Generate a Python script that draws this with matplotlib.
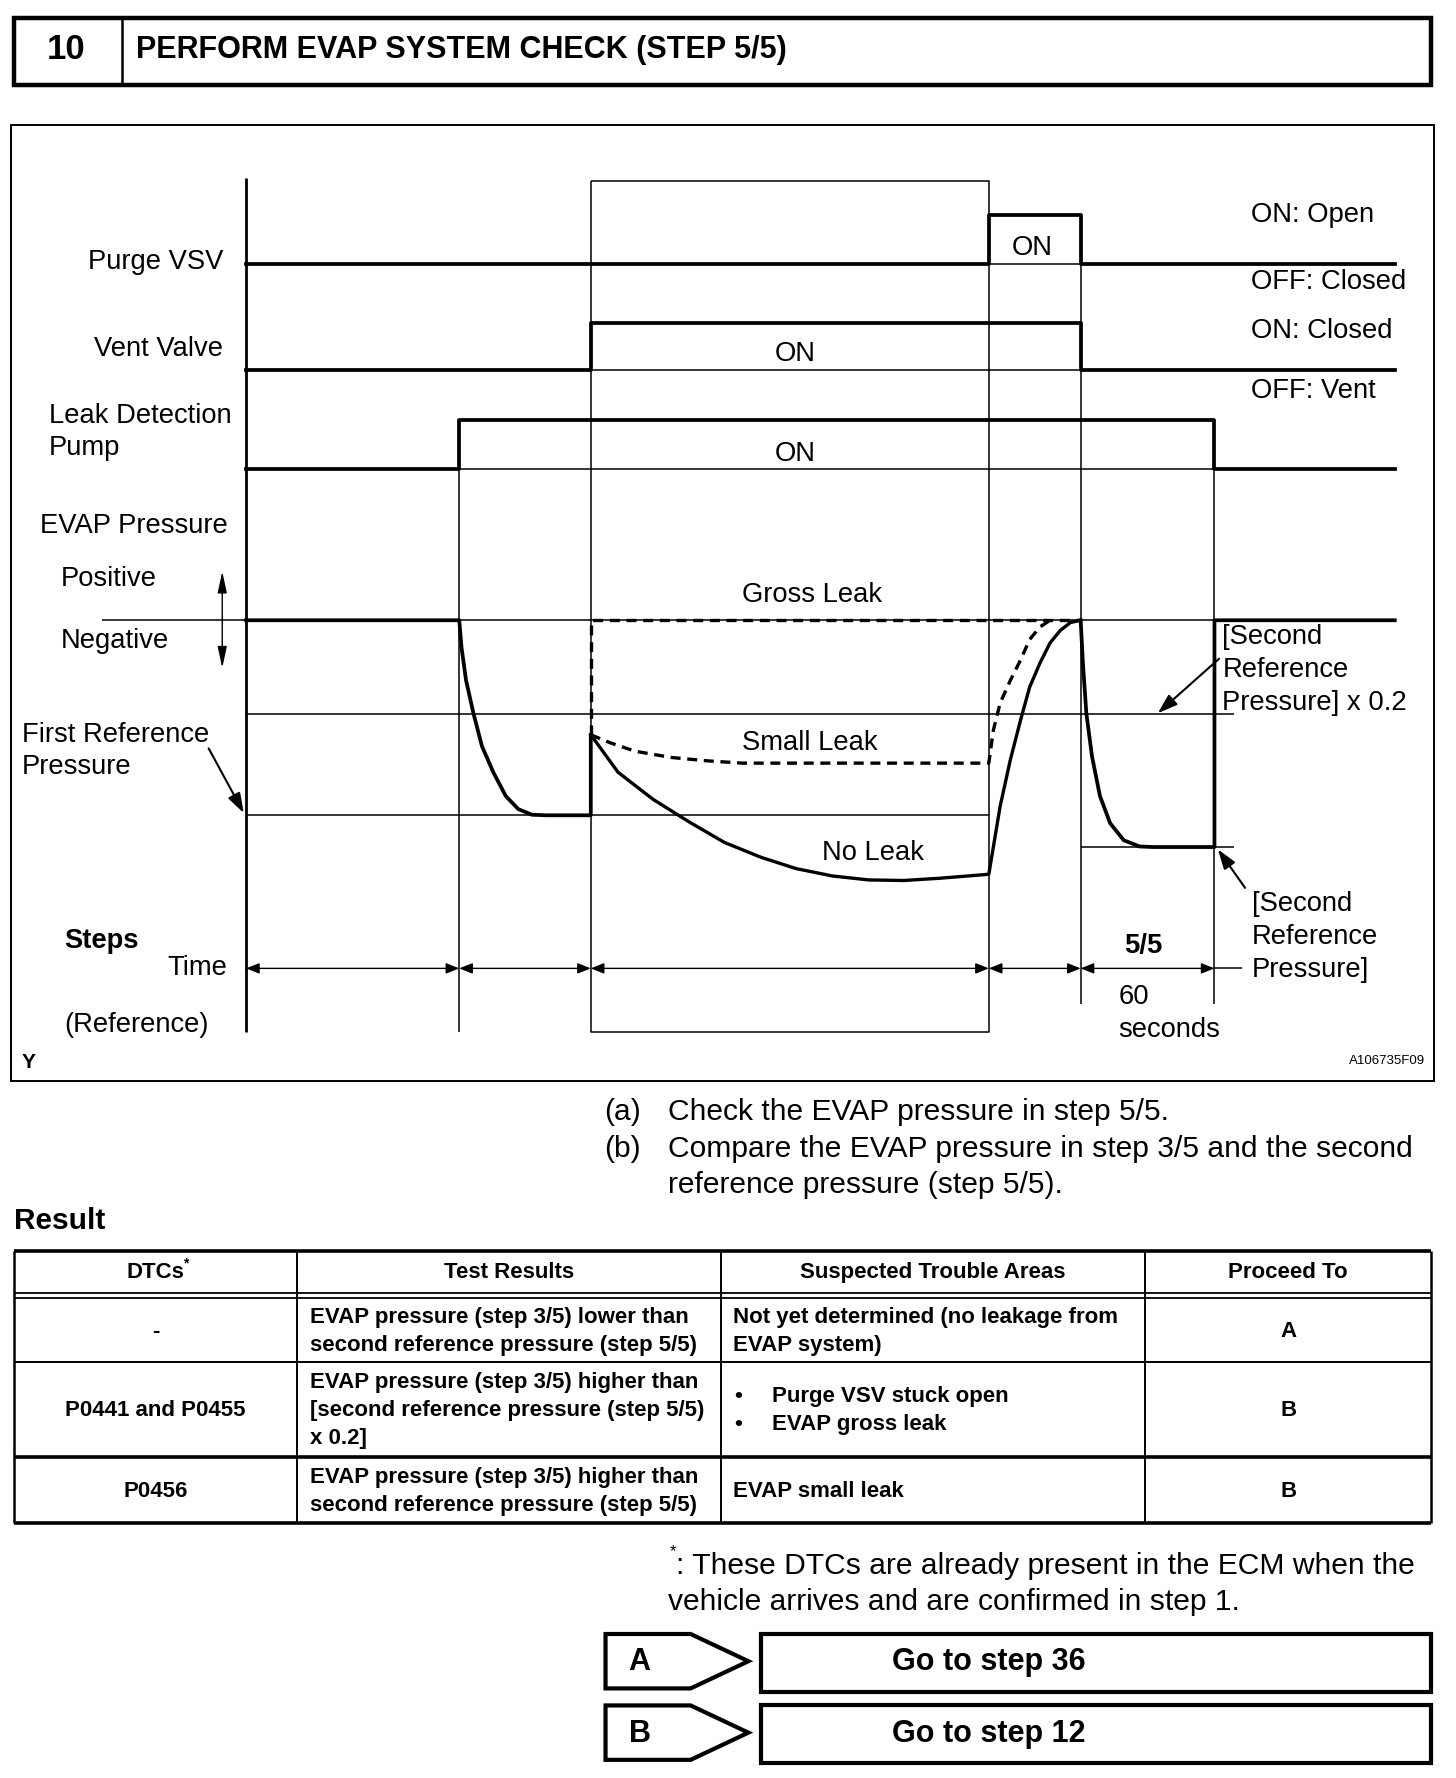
import matplotlib
matplotlib.use("Agg")
import matplotlib.pyplot as plt
from matplotlib.patches import Polygon

plt.rcParams["font.family"] = ["Liberation Sans", "DejaVu Sans"]

# ---- timing diagram: switching times (page units) and ON/OFF states ----
PURGE_EDGES = [217, 872, 953, 1230]
PURGE_STATE = [0, 1, 0]
VENT_EDGES = [217, 521, 953, 1230]
VENT_STATE = [0, 1, 0]
PUMP_EDGES = [217, 405, 1071, 1230]
PUMP_STATE = [0, 1, 0]
STEP_BOUNDS = [217, 405, 521, 872, 953, 1071]

# pressure levels (page units, larger = more negative)
P_ZERO, P_REF2_02, P_REF1, P_REF2 = 547, 630, 719, 747

# pressure traces
DROP_X = [217, 405, 407, 411, 417.5, 425, 435, 446, 457, 469, 482, 521, 521]
DROP_Y = [547, 547, 571, 600, 629, 658, 681, 702, 713.5, 718.5, 719, 719, 648]
NOLEAK_X = [521, 545, 576, 608, 639, 671, 702, 734, 766, 797, 829, 872,
            876, 882, 891, 900, 908, 917, 926, 935, 944, 953]
NOLEAK_Y = [648, 681, 705, 725, 743, 756, 766, 772.5, 776, 776.5, 774.5, 771,
            747, 711, 670, 635, 606, 585, 567, 556, 549, 547]
SMALL_X = [521, 538, 560, 592, 624, 655, 872, 876, 882, 891, 900, 908, 917, 926]
SMALL_Y = [648, 655, 662.5, 668, 671, 673, 673, 644, 620, 600, 582, 564, 553, 547]
GROSS_X = [521, 521, 953]
GROSS_Y = [648, 547, 547]
STEP5_X = [953, 955, 958, 963, 970, 979, 991, 1005, 1017, 1071, 1071, 1230]
STEP5_Y = [547, 585, 629, 667, 702, 726, 741, 746.5, 747, 747, 547, 547]

# ---- result table ----
HEADERS = ["DTCs", "Test Results", "Suspected Trouble Areas", "Proceed To"]
DTCS = ["-", "P0441 and P0455", "P0456"]
TEST_RESULTS = [
    ["EVAP pressure (step 3/5) lower than", "second reference pressure (step 5/5)"],
    ["EVAP pressure (step 3/5) higher than", "[second reference pressure (step 5/5)", "x 0.2]"],
    ["EVAP pressure (step 3/5) higher than", "second reference pressure (step 5/5)"],
]
TROUBLE_AREAS = [
    ["Not yet determined (no leakage from", "EVAP system)"],
    ["Purge VSV stuck open", "EVAP gross leak"],
    ["EVAP small leak"],
]
BULLETED = [False, True, False]
PROCEED = ["A", "B", "B"]
GOTO = [("A", "Go to step 36"), ("B", "Go to step 12")]

W, H = 1284, 1568
fig = plt.figure(figsize=(14.56, 17.78), dpi=100)
ax = fig.add_axes([0, 0, 1, 1])
ax.set_xlim(0, W)
ax.set_ylim(H, 0)
ax.axis("off")

K = "black"
THICK, THIN = 2.7, 1.1
FS = 19.7


def line(xs, ys, lw=THIN, **kw):
    ax.plot(xs, ys, color=K, lw=lw, solid_capstyle="butt", **kw)


def txt(x, y, s, size=FS, ha="left", weight="normal", **kw):
    ax.text(x, y, s, fontsize=size, ha=ha, va="center", weight=weight, color=K, **kw)


def arrow(x0, y0, x1, y1, style, lw=1.0, ms=10):
    ax.annotate("", xy=(x1, y1), xytext=(x0, y0),
                arrowprops=dict(arrowstyle=style, color=K, lw=lw, shrinkA=0, shrinkB=0,
                                mutation_scale=ms))


# ---- header ----
ax.add_patch(plt.Rectangle((12, 16), 1250, 59, fill=False, lw=3.2, ec=K))
line([108, 108], [16, 75], lw=1.8)
txt(58, 44, "10", size=25, ha="center", weight="bold")
txt(120, 44, "PERFORM EVAP SYSTEM CHECK (STEP 5/5)", size=22, weight="bold")

# ---- diagram frame ----
ax.add_patch(plt.Rectangle((10, 110), 1255, 843, fill=False, lw=1.4, ec=K))

# grid / guide lines
line([217, 217], [157, 910], lw=2.0)
line([521, 872, 872, 521, 521], [160, 160, 910, 910, 160])
line([405, 405], [370, 910])
line([953, 953], [190, 885])
line([1071, 1071], [370, 885])
line([90, 1230], [P_ZERO, P_ZERO])
line([217, 1088], [P_REF2_02, P_REF2_02])
line([217, 872], [P_REF1, P_REF1])
line([953, 1088], [P_REF2, P_REF2])
line([872, 953], [233, 233])
line([521, 953], [326, 326])
line([405, 1071], [414, 414])

# ON/OFF signals
for edges, states, low, high in [(PURGE_EDGES, PURGE_STATE, 233, 190),
                                 (VENT_EDGES, VENT_STATE, 326, 285),
                                 (PUMP_EDGES, PUMP_STATE, 414, 370)]:
    ys = [high if s else low for s in states]
    ax.step(edges, ys + [ys[-1]], where="post", color=K, lw=THICK)

# pressure traces
ax.plot(DROP_X, DROP_Y, color=K, lw=THICK)
ax.plot(NOLEAK_X, NOLEAK_Y, color=K, lw=2.4)
ax.plot(SMALL_X, SMALL_Y, color=K, lw=2.4, ls=(0, (3, 2)))
ax.plot(GROSS_X, GROSS_Y, color=K, lw=2.4, ls=(0, (3, 2)))
ax.plot(STEP5_X, STEP5_Y, color=K, lw=THICK)

# time axis
for a, b in zip(STEP_BOUNDS[:-1], STEP_BOUNDS[1:]):
    arrow(a, 854, b, 854, "<|-|>,head_length=0.8,head_width=0.32")
line([1071, 1095], [854, 854])

# left labels
txt(197, 231, "Purge VSV", ha="right")
txt(197, 308, "Vent Valve", ha="right")
txt(43, 367, "Leak Detection")
txt(43, 395, "Pump")
txt(35, 464, "EVAP Pressure")
txt(54, 511, "Positive")
txt(54, 565, "Negative")
arrow(196, 546, 196, 504, "-|>,head_length=1.3,head_width=0.28", lw=1.0)
arrow(196, 546, 196, 589, "-|>,head_length=1.3,head_width=0.28", lw=1.0)
txt(19, 648, "First Reference")
txt(19, 676, "Pressure")
arrow(184, 660, 215, 717, "-|>,head_length=1.2,head_width=0.4", lw=1.5)
txt(57, 830, "Steps", weight="bold")
txt(200, 854, "Time", ha="right")
txt(57, 904, "(Reference)")
txt(19, 937, "Y", size=15, weight="bold")

# in-diagram labels
txt(910, 219, "ON", ha="center")
txt(701, 312, "ON", ha="center")
txt(701, 400, "ON", ha="center")
txt(716, 525, "Gross Leak", ha="center")
txt(714, 655, "Small Leak", ha="center")
txt(770, 752, "No Leak", ha="center")

# right labels
txt(1103, 190, "ON: Open")
txt(1103, 249, "OFF: Closed")
txt(1103, 292, "ON: Closed")
txt(1103, 345, "OFF: Vent")
txt(1078, 562, "[Second")
txt(1078, 591, "Reference")
txt(1078, 620, "Pressure] x 0.2")
arrow(1075, 581, 1021, 629, "-|>,head_length=1.2,head_width=0.4", lw=1.5)
txt(1104, 797, "[Second")
txt(1104, 826, "Reference")
txt(1104, 855, "Pressure]")
arrow(1098, 783, 1074, 749, "-|>,head_length=1.2,head_width=0.4", lw=1.5)
txt(1008, 834, "5/5", ha="center", weight="bold")
txt(1000, 879, "60", ha="center")
txt(1031, 908, "seconds", ha="center")
txt(1257, 936, "A106735F09", size=9.5, ha="right")

# ---- instructions ----
FS2 = 21.6
txt(533, 981, "(a)", size=FS2)
txt(589, 981, "Check the EVAP pressure in step 5/5.", size=FS2)
txt(533, 1013, "(b)", size=FS2)
txt(589, 1013, "Compare the EVAP pressure in step 3/5 and the second", size=FS2)
txt(589, 1045, "reference pressure (step 5/5).", size=FS2)
txt(12, 1077, "Result", size=21.5, weight="bold")

# ---- table ----
COLS = [12, 262, 636, 1010, 1262]
TOP, HB1, HB2, R1, R2, BOT = 1103, 1140, 1145, 1201, 1285, 1343
line([COLS[0], COLS[-1]], [TOP, TOP], lw=2.6)
line([COLS[0], COLS[-1]], [HB1, HB1], lw=1.3)
line([COLS[0], COLS[-1]], [HB2, HB2], lw=1.3)
line([COLS[0], COLS[-1]], [R1, R1], lw=1.4)
line([COLS[0], COLS[-1]], [R2, R2], lw=2.6)
line([COLS[0], COLS[-1]], [BOT, BOT], lw=2.6)
for i, c in enumerate(COLS):
    line([c, c], [TOP, BOT], lw=1.8 if i in (0, len(COLS) - 1) else 1.4)

TS = 16
centers = [(a + b) / 2 for a, b in zip(COLS[:-1], COLS[1:])]
for cx, h in zip(centers, HEADERS):
    txt(cx, 1122, h, size=TS, ha="center", weight="bold")
txt(164, 1114, "*", size=10, ha="center", weight="bold")

row_bounds = [(HB2, R1), (R1, R2), (R2, BOT)]
LH = 24.8
for (y0, y1), dtc, tr, ta, bul, pr in zip(row_bounds, DTCS, TEST_RESULTS,
                                            TROUBLE_AREAS, BULLETED, PROCEED):
    ym = (y0 + y1) / 2 + 1
    txt(centers[0], ym, dtc, size=TS, ha="center", weight="bold")
    txt(centers[3], ym, pr, size=TS, ha="center", weight="bold")
    for k, s in enumerate(tr):
        txt(273, ym + (k - (len(tr) - 1) / 2) * LH, s, size=TS, weight="bold")
    for k, s in enumerate(ta):
        yy = ym + (k - (len(ta) - 1) / 2) * LH
        if bul:
            txt(651, yy, "•", size=TS, ha="center", weight="bold")
            txt(681, yy, s, size=TS, weight="bold")
        else:
            txt(646, yy, s, size=TS, weight="bold")

# ---- footnote ----
txt(591, 1368, "*", size=12)
txt(596, 1381, ": These DTCs are already present in the ECM when the", size=FS2)
txt(589, 1413, "vehicle arrives and are confirmed in step 1.", size=FS2)

# ---- go-to boxes ----
for k, (letter, label) in enumerate(GOTO):
    y0 = 1441 + k * 63
    pent = [(534, y0), (609, y0), (660, y0 + 24), (609, y0 + 48), (534, y0 + 48)]
    ax.add_patch(Polygon(pent, closed=True, fill=False, lw=3.0, ec=K, joinstyle="miter"))
    ax.add_patch(plt.Rectangle((671, y0), 591, 51, fill=False, lw=3.0, ec=K))
    txt(564, y0 + 25, letter, size=22, ha="center", weight="bold")
    txt(872, y0 + 25, label, size=22, ha="center", weight="bold")

fig.savefig("out.png", dpi=100)
